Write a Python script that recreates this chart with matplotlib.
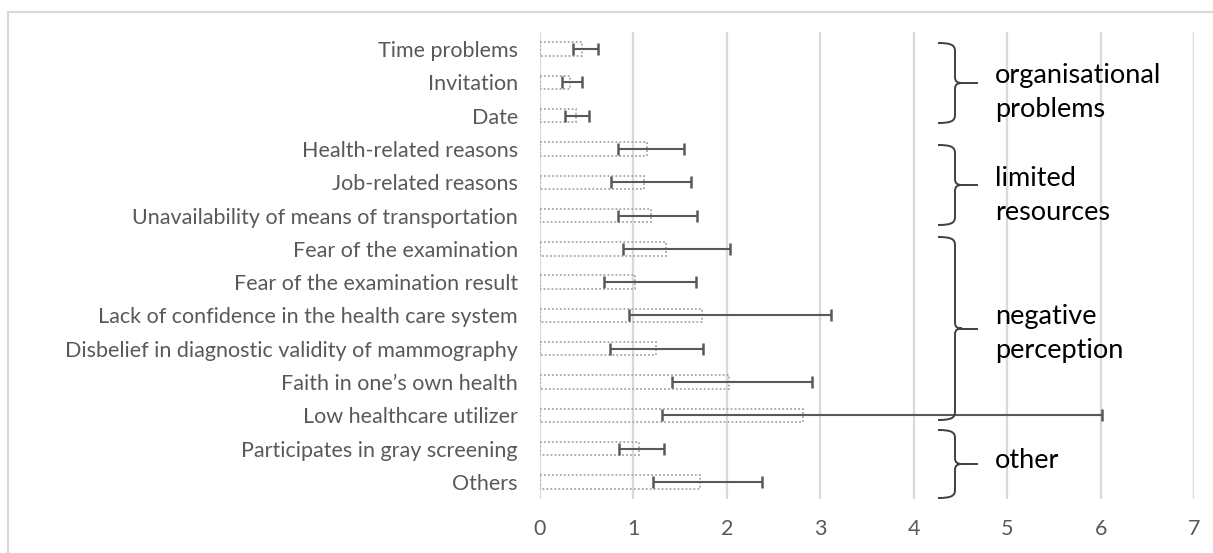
import matplotlib
matplotlib.use("Agg")
import matplotlib.pyplot as plt
from matplotlib.path import Path
from matplotlib.patches import PathPatch
from matplotlib.lines import Line2D
from matplotlib.transforms import IdentityTransform
import numpy as np

categories = [
    "Time problems",
    "Invitation",
    "Date",
    "Health-related reasons",
    "Job-related reasons",
    "Unavailability of means of transportation",
    "Fear of the examination",
    "Fear of the examination result",
    "Lack of confidence in the health care system",
    "Disbelief in diagnostic validity of mammography",
    "Faith in one\u2019s own health",
    "Low healthcare utilizer",
    "Participates in gray screening",
    "Others",
]
means = [0.45, 0.32, 0.38, 1.14, 1.11, 1.19, 1.35, 1.02, 1.73, 1.24, 2.02, 2.82, 1.06, 1.71]
lows = [0.35, 0.24, 0.27, 0.83, 0.76, 0.83, 0.89, 0.69, 0.95, 0.75, 1.41, 1.31, 0.85, 1.21]
highs = [0.62, 0.45, 0.52, 1.54, 1.62, 1.68, 2.03, 1.67, 3.12, 1.74, 2.91, 6.02, 1.33, 2.38]
x_ticks = [0, 1, 2, 3, 4, 5, 6, 7]

groups = ["organisational\nproblems", "limited\nresources", "negative\nperception", "other"]

W, H = 1213, 553
FONT = "Lato"
fig = plt.figure(figsize=(W / 100, H / 100), dpi=100)
fig.patch.set_facecolor("white")

ax_left, ax_right = 540, 1194
ax_top, ax_bottom = 32.4, 498.6
ax = fig.add_axes([ax_left / W, 1 - ax_bottom / H, (ax_right - ax_left) / W, (ax_bottom - ax_top) / H])

y = np.arange(len(categories))
m = np.array(means)
lo = np.array(lows)
hi = np.array(highs)

ax.barh(y, m, height=0.4, left=0, facecolor="none", edgecolor="#a6a6a6",
        linewidth=1.3, linestyle=(0, (1, 1.2)), zorder=3)
ax.errorbar(m, y, xerr=[m - lo, hi - m], fmt="none", ecolor="#595959",
            elinewidth=1.5, capsize=4, capthick=1.8, zorder=4)

ax.set_xlim(0, 7)
ax.set_ylim(len(categories) - 0.5, -0.5)
ax.set_xticks(x_ticks)
ax.set_xticklabels([str(t) for t in x_ticks])
ax.set_yticks(y)
ax.set_yticklabels(categories)
ax.grid(axis="x", color="#d9d9d9", linewidth=1.6, zorder=0)
ax.set_axisbelow(True)
for s in ax.spines.values():
    s.set_visible(False)
ax.tick_params(axis="y", length=0, pad=16, labelsize=15.5, labelcolor="#595959")
ax.tick_params(axis="x", length=0, pad=14.5, labelsize=15.5, labelcolor="#595959")
for lab in ax.get_xticklabels() + ax.get_yticklabels():
    lab.set_fontfamily(FONT)

# frame around the chart
tr = IdentityTransform()
def P(x, yy):
    return (x, H - yy)

fig.add_artist(Line2D([8, W], [H - 12, H - 12], transform=tr, color="#d9d9d9", linewidth=1.5))
fig.add_artist(Line2D([8, 8], [H - 12, 0], transform=tr, color="#d9d9d9", linewidth=1.5))

# braces
def brace(y0, y1, x0=938, xv=955, xt=962, xe=977):
    ym = (y0 + y1) / 2
    verts = [
        P(x0, y0), P(xv - 4, y0), P(xv, y0 + 2), P(xv, y0 + 8),
        P(xv, ym - 6),
        P(xv, ym - 1), P(xv + 3, ym), P(xt, ym),
        P(xv + 3, ym), P(xv, ym + 1), P(xv, ym + 6),
        P(xv, y1 - 8),
        P(xv, y1 - 2), P(xv - 4, y1), P(x0, y1),
    ]
    codes = [Path.MOVETO, Path.CURVE4, Path.CURVE4, Path.CURVE4,
             Path.LINETO,
             Path.CURVE4, Path.CURVE4, Path.CURVE4,
             Path.CURVE4, Path.CURVE4, Path.CURVE4,
             Path.LINETO,
             Path.CURVE4, Path.CURVE4, Path.CURVE4]
    fig.add_artist(PathPatch(Path(verts, codes), transform=tr, facecolor="none",
                             edgecolor="#404040", linewidth=1.4, zorder=10))
    fig.add_artist(Line2D([xt, xe], [H - ym, H - ym], transform=tr, color="#404040",
                          linewidth=1.4, zorder=10))

brace_spans = [(43, 123), (145, 225), (237, 420), (430, 498)]
last_baselines = [117, 220, 358, 468]
for (a, b), label, bl in zip(brace_spans, groups, last_baselines):
    brace(a, b)
    fig.text(995 / W, 1 - bl / H, label, fontsize=19.5, family=FONT, color="black",
             ha="left", va="baseline", linespacing=1.45)

fig.savefig("out.png", dpi=100, facecolor="white")
